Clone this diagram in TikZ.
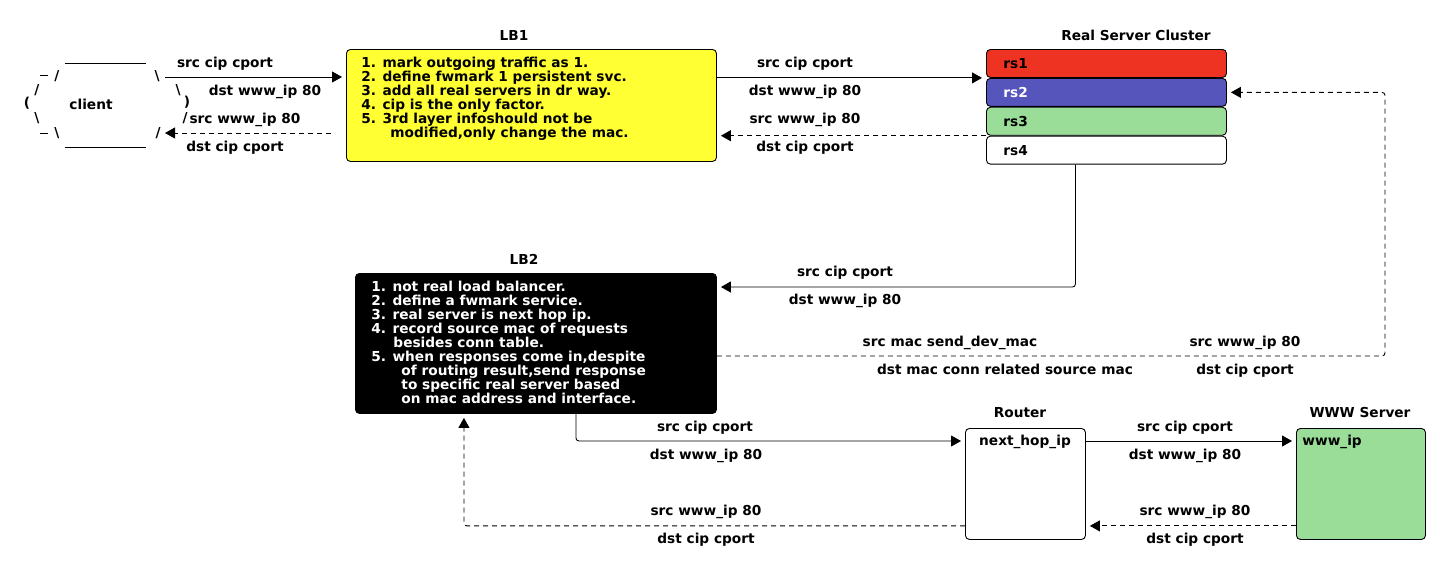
\documentclass[tikz,border=0pt]{standalone}
\usepackage{fontspec}
\setmainfont{DejaVu Sans}
\usetikzlibrary{arrows.meta, positioning}

\definecolor{dyellow}{HTML}{FFFF33}
\definecolor{dred}{HTML}{EE3322}
\definecolor{dblue}{HTML}{5555BB}
\definecolor{dgreen}{HTML}{99DD99}

\newcommand{\dfont}{\fontsize{13.7}{14}\selectfont\bfseries}

\begin{document}
\begin{tikzpicture}[x=1pt, y=-1pt, font=\dfont, line width=0.9pt,
    box/.style={draw, rounded corners=4pt, anchor=north west, inner sep=0pt},
    rsbox/.style={box, minimum height=28pt, text width=206pt, inner xsep=17pt, align=left},
    txt/.style={anchor=north west, align=left, inner sep=0pt},
    lbl/.style={anchor=base, inner sep=0pt},
    glyph/.style={inner sep=0pt},
    flow/.style={-{Triangle[length=10pt,width=11pt]}, rounded corners=3pt, shorten >=4pt},
    back/.style={flow, dash pattern=on 5pt off 4pt}]

            \useasboundingbox (0,0) rectangle (1450,574);

            % the client, drawn as a little ascii cloud
            \draw (65,63) -- (146,63);
            \draw (65,147) -- (146,147);
            \draw (40,75) -- (48,75);
            \draw (40,133) -- (48,133);
            \node[glyph] (cl1) at (57,76) {/};
            \node[glyph] (cl2) at (157,76) {\textbackslash};
            \node[glyph] (cl3) at (37,90) {/};
            \node[glyph] (cl4) at (178,90) {\textbackslash};
            \node[glyph] (cl5) at (27,103) {(};
            \node[glyph] (cl6) at (187,102) {)};
            \node[glyph] (cl7) at (37,118) {\textbackslash};
            \node[glyph] (cl8) at (185,118) {/};
            \node[glyph] (cl9) at (57,133) {\textbackslash};
            \node[glyph] (cl10) at (158,133) {/};
            \node[glyph] (client) at (91,104) {client};
            \coordinate (clout) at (165,77);
            \coordinate (clin) at (161,133);

            % LB1
            \node[lbl] (lb1title) at (514,40) {LB1};
            \node[box, fill=dyellow, minimum width=370pt, minimum height=112pt] (lb1) at (346,49) {};
            \node[txt] (lb1txt) at (361,57) {1. mark outgoing traffic as 1.\\
                2. define fwmark 1 persistent svc.\\
                3. add all real servers in dr way.\\
                4. cip is the only factor.\\
                5. 3rd layer infoshould not be\\
                \hspace*{29pt}modified,only change the mac.};

            % real servers
            \node[lbl] (rctitle) at (1136,40) {Real Server Cluster};
            \node[rsbox, fill=dred] (rs1) at (986,49) {rs1};
            \node[rsbox, fill=dblue, text=white, below=0pt of rs1] (rs2) {rs2};
            \node[rsbox, fill=dgreen, below=0pt of rs2] (rs3) {rs3};
            \node[rsbox, fill=white, below=0pt of rs3] (rs4) {rs4};

            % LB2
            \node[lbl] (lb2title) at (524,264) {LB2};
            \node[box, fill=black, minimum width=361pt, minimum height=140pt] (lb2) at (355,273) {};
            \node[txt, text=white] (lb2txt) at (371,281) {1. not real load balancer.\\
                2. define a fwmark service.\\
                3. real server is next hop ip.\\
                4. record source mac of requests\\
                \hspace*{22pt}besides conn table.\\
                5. when responses come in,despite\\
                \hspace*{30pt}of routing result,send response\\
                \hspace*{30pt}to specific real server based\\
                \hspace*{30pt}on mac address and interface.};

            % router and web server
            \node[lbl] (rttitle) at (1020,417) {Router};
            \node[box, fill=white, minimum width=120pt, minimum height=111pt] (router) at (965,428) {};
            \node[lbl] (rttxt) at (1025,445.5) {next\_hop\_ip};
            \node[lbl] (wwwtitle) at (1360,417) {WWW Server};
            \node[box, fill=dgreen, minimum width=129pt, minimum height=111pt] (www) at (1296,428) {};
            \node[lbl, anchor=base west] (wwwtxt) at (1302,445.5) {www\_ip};

            \coordinate (lbturn) at (1385,356);
            \coordinate (rtin) at ([yshift=-13pt]router.north west);
            \coordinate (rtback) at ([yshift=14pt]router.south west);

            % client <-> LB1
            \draw[flow] (clout) -- (clout -| lb1.west);
            \draw[back, shorten <=15pt] (clin -| lb1.west) -- (clin);
            \node[lbl] (l1) at (225,67.5) {src cip cport};
            \node[lbl] (l2) at (265,95.5) {dst www\_ip 80};
            \node[lbl] (l3) at (245,123.5) {src www\_ip 80};
            \node[lbl] (l4) at (235,151.5) {dst cip cport};

            % LB1 <-> real servers
            \draw[flow] (lb1.east |- rs1.south west) -- (rs1.south west);
            \draw[back] (rs4.north west) -- (lb1.east |- rs4.north west);
            \node[lbl] (l5) at (805,67.5) {src cip cport};
            \node[lbl] (l6) at (805,95.5) {dst www\_ip 80};
            \node[lbl] (l7) at (805,123.5) {src www\_ip 80};
            \node[lbl] (l8) at (805,151.5) {dst cip cport};

            % real server -> LB2
            \draw[flow] ([xshift=-31pt]rs4.south) |- ([yshift=-14pt]lb2.north east);
            \node[lbl] (l9) at (845,276.5) {src cip cport};
            \node[lbl] (l10) at (845,304) {dst www\_ip 80};

            % LB2 -> real server (response)
            \draw[back] (lb2.east |- lbturn) -- (lbturn) |- (rs2.east);
            \node[lbl] (l11) at (950,346.5) {src mac send\_dev\_mac};
            \node[lbl] (l12) at (1005,374.5) {dst mac conn related source mac};
            \node[lbl] (l13) at (1245,346.5) {src www\_ip 80};
            \node[lbl] (l14) at (1245,374.5) {dst cip cport};

            % LB2 <-> router
            \draw[flow] ([xshift=40pt]lb2.south) |- (rtin);
            \draw[back] (rtback) -| ([xshift=-72pt]lb2.south);
            \node[lbl] (l15) at (705,431.5) {src cip cport};
            \node[lbl] (l16) at (706,459.5) {dst www\_ip 80};
            \node[lbl] (l17) at (706,515.5) {src www\_ip 80};
            \node[lbl] (l18) at (706,543.5) {dst cip cport};

            % router <-> web server
            \draw[flow] (rtin -| router.east) -- (rtin -| www.west);
            \draw[back] (rtback -| www.west) -- (rtback -| router.east);
            \node[lbl] (l19) at (1185,431.5) {src cip cport};
            \node[lbl] (l20) at (1185,459.5) {dst www\_ip 80};
            \node[lbl] (l21) at (1195,515.5) {src www\_ip 80};
            \node[lbl] (l22) at (1195,543.5) {dst cip cport};
\end{tikzpicture}
\end{document}
